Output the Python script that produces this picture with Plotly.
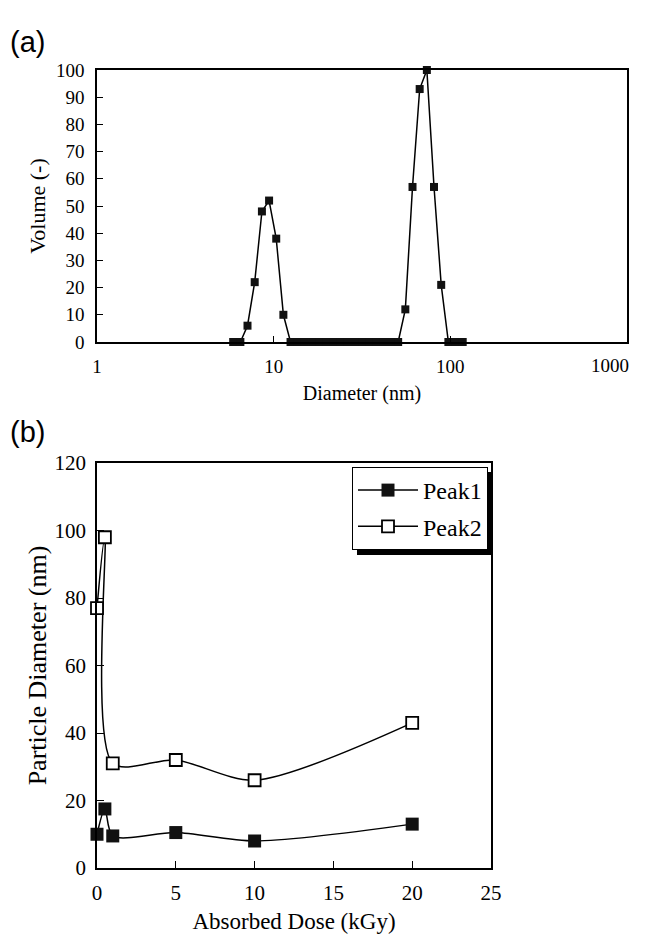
import plotly.graph_objects as go

# Panel (a): size distribution
diameter_nm = [5.90, 6.48, 7.11, 7.81, 8.58, 9.42, 10.34, 11.35, 12.46, 13.69, 15.03,
               16.50, 18.12, 19.89, 21.84, 23.98, 26.33, 28.91, 31.74, 34.86, 38.27,
               42.02, 46.14, 50.66, 55.63, 61.08, 67.06, 73.64, 80.85, 88.78, 97.48,
               107.0, 117.5]
volume = [0, 0, 6, 22, 48, 52, 38, 10, 0, 0, 0, 0, 0, 0, 0, 0, 0, 0, 0, 0, 0,
          0, 0, 0, 12, 57, 93, 100, 57, 21, 0, 0, 0]
x_a_ticks = [1, 10, 100, 1000]
x_a_ticktext = ["1", "10", "100", ""]   # last label drawn pulled inside, as in the source
x_a_last_label = "1000"

# Panel (b): particle diameter vs absorbed dose
dose_kgy = [0, 0.5, 1, 5, 10, 20]
peak1 = [10, 17.5, 9.5, 10.5, 8, 13]
peak2 = [77, 98, 31, 32, 26, 43]

W, H = 647, 937
SERIF = "Liberation Serif"

def px_x(v):
    return v / W

def px_y(v):
    return 1 - v / H

fig = go.Figure()

fig.add_trace(go.Scatter(
    x=diameter_nm, y=volume, mode="lines+markers",
    line=dict(color="black", width=1.5),
    marker=dict(symbol="square", size=8, color="#111111", line=dict(width=0)),
    cliponaxis=False, xaxis="x", yaxis="y", showlegend=False))

fig.add_trace(go.Scatter(
    x=dose_kgy, y=peak1, mode="lines+markers", name="Peak1", legendgroup="g1",
    line=dict(color="black", width=1.5, shape="spline", smoothing=0.8),
    marker=dict(symbol="square", size=13, color="#111111", line=dict(width=0)),
    cliponaxis=False, xaxis="x2", yaxis="y2"))

fig.add_trace(go.Scatter(
    x=dose_kgy, y=peak2, mode="lines+markers", name="Peak2", legendgroup="g2",
    line=dict(color="black", width=1.5, shape="spline", smoothing=0.8),
    marker=dict(symbol="square", size=12, color="white", line=dict(width=1.8, color="black")),
    cliponaxis=False, xaxis="x2", yaxis="y2"))

axis_common = dict(showline=True, linecolor="black", linewidth=1.5, mirror=True,
                   ticks="inside", tickcolor="black", showgrid=False, zeroline=False,
                   automargin=False)

fig.update_layout(
    width=W, height=H,
    margin=dict(l=0, r=0, t=0, b=0),
    paper_bgcolor="white", plot_bgcolor="white",
    font=dict(family=SERIF, color="black"),
    xaxis=dict(**axis_common, type="log", range=[0, 3], tickvals=x_a_ticks,
               ticktext=x_a_ticktext, ticklen=6, ticklabelstandoff=6,
               domain=[px_x(97), px_x(627)], anchor="y",
               tickfont=dict(size=19, family=SERIF),
               title=dict(text="Diameter (nm)", font=dict(size=20, family=SERIF), standoff=10)),
    yaxis=dict(**axis_common, range=[0, 100], dtick=10, ticklen=6, ticklabelstandoff=7,
               domain=[px_y(342), px_y(70)], anchor="x",
               tickfont=dict(size=19, family=SERIF),
               title=dict(text="Volume (-)", font=dict(size=22, family=SERIF), standoff=4)),
    xaxis2=dict(**axis_common, range=[0, 25], dtick=5, ticklen=7, ticklabelstandoff=5,
                domain=[px_x(97), px_x(491)], anchor="y2",
                tickfont=dict(size=21, family=SERIF),
                title=dict(text="Absorbed Dose (kGy)", font=dict(size=23, family=SERIF), standoff=9)),
    yaxis2=dict(**axis_common, range=[0, 120], dtick=20, ticklen=7, ticklabelstandoff=5,
                domain=[px_y(868), px_y(463)], anchor="x2",
                tickfont=dict(size=21, family=SERIF),
                title=dict(text="Particle Diameter (nm)", font=dict(size=26, family=SERIF), standoff=0)),
    legend=dict(x=px_x(352), y=px_y(467), xanchor="left", yanchor="top",
                xref="paper", yref="paper", itemwidth=60,
                bgcolor="white", bordercolor="black", borderwidth=1,
                font=dict(size=24, family=SERIF), tracegroupgap=2),
    annotations=[
        dict(text="(a)", x=px_x(8), y=px_y(42), xref="paper", yref="paper",
             xanchor="left", yanchor="middle", showarrow=False,
             font=dict(size=29, family="Liberation Sans")),
        dict(text="(b)", x=px_x(8), y=px_y(432), xref="paper", yref="paper",
             xanchor="left", yanchor="middle", showarrow=False,
             font=dict(size=29, family="Liberation Sans")),
        dict(text=x_a_last_label, x=3, y=0, xref="x", yref="y",
             xanchor="center", yanchor="top", xshift=-17, yshift=-11, showarrow=False,
             font=dict(size=19, family=SERIF)),
    ],
    shapes=[
        dict(type="rect", xref="paper", yref="paper", layer="below",
             x0=px_x(357), x1=px_x(492), y0=px_y(555), y1=px_y(472),
             fillcolor="black", line=dict(width=0)),
    ],
)

fig.write_html("out.html")
